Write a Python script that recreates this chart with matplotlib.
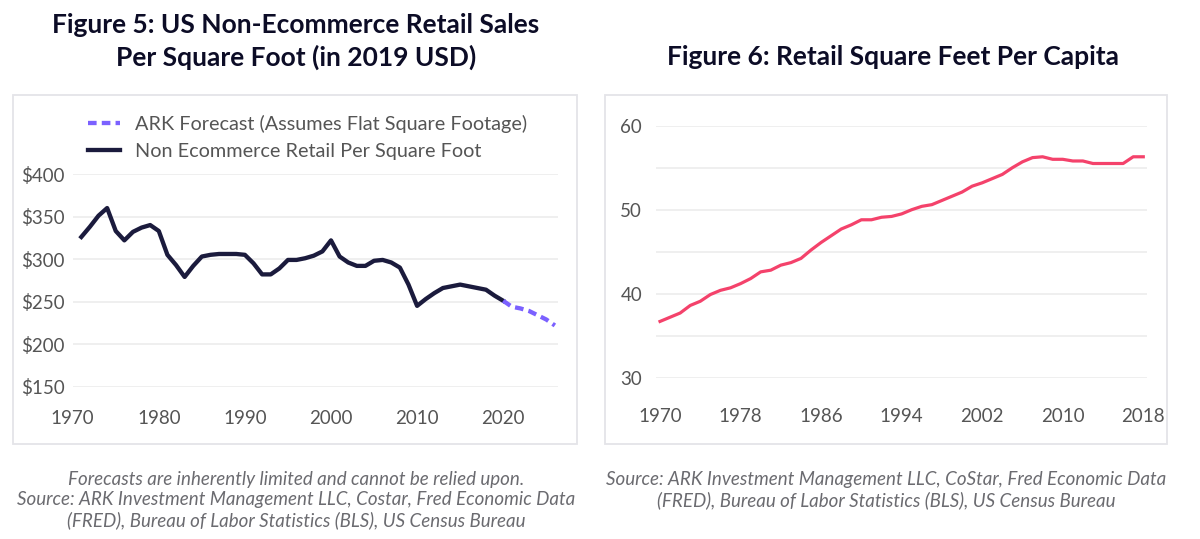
import matplotlib

matplotlib.use("Agg")
import matplotlib.pyplot as plt
from matplotlib.patches import Rectangle

# Figure 5: non-ecommerce retail sales per square foot (2019 USD)
sales_years = list(range(1971, 2021))
sales_values = [
    326, 338, 351, 360, 333, 322, 332, 337, 340, 333,
    305, 293, 279, 292, 303, 305, 306, 306, 306, 305,
    295, 282, 282, 289, 299, 299, 301, 304, 309, 322,
    303, 296, 292, 292, 298, 299, 296, 290, 270, 245,
    253, 260, 266, 268, 270, 268, 266, 264, 257, 251,
]
forecast_years = list(range(2020, 2027))
forecast_values = [251, 244, 242, 239, 234, 229, 222]

# Figure 6: retail square feet per capita
sqft_years = list(range(1970, 2019))
sqft_values = [
    36.7, 37.2, 37.7, 38.6, 39.1, 39.9, 40.4, 40.7, 41.2, 41.8,
    42.6, 42.8, 43.4, 43.7, 44.2, 45.2, 46.1, 46.9, 47.7, 48.2,
    48.8, 48.8, 49.1, 49.2, 49.5, 50.0, 50.4, 50.6, 51.1, 51.6,
    52.1, 52.8, 53.2, 53.7, 54.2, 55.0, 55.7, 56.2, 56.3, 56.0,
    56.0, 55.8, 55.8, 55.5, 55.5, 55.5, 55.5, 56.3, 56.3,
]

NAVY = "#1b1b3d"
PURPLE = "#7b61ff"
PINK = "#f4426b"
GRID = "#ececec"
TICK = "#555555"
FONT = "Lato"

plt.rcParams["font.family"] = [FONT, "DejaVu Sans"]

fig = plt.figure(figsize=(12, 5.39), dpi=100)
fig.patch.set_facecolor("white")

# panel boxes
for x0, w in [(13.3, 563.4), (605, 562.3)]:
    fig.patches.append(
        Rectangle(
            (x0 / 1200, 1 - 444.3 / 539), w / 1200, 349.3 / 539,
            transform=fig.transFigure, facecolor="white",
            edgecolor="#e4e4e8", linewidth=1.3, zorder=-5,
        )
    )


def style_axes(ax, pad):
    ax.set_facecolor("none")
    for spine in ax.spines.values():
        spine.set_visible(False)
    ax.tick_params(length=0, labelsize=13.5, labelcolor=TICK)
    ax.tick_params(axis="x", pad=pad)
    ax.grid(axis="y", color=GRID, linewidth=1.2)
    ax.set_axisbelow(True)


# left chart
ax1 = fig.add_axes([72.7 / 1200, 1 - 386.7 / 539, 485.6 / 1200, 212.7 / 539])
style_axes(ax1, 17)
ax1.plot(sales_years, sales_values, color=NAVY, linewidth=3.1,
         label="Non Ecommerce Retail Per Square Foot")
ax1.plot(forecast_years, forecast_values, color=PURPLE, linewidth=3.1,
         linestyle=(0, (2, 1.2)), label="ARK Forecast (Assumes Flat Square Footage)")
ax1.set_xlim(1970.35, 2026.4)
ax1.set_ylim(150, 400)
ax1.set_yticks(range(150, 401, 50))
ax1.set_yticklabels([f"${v}" for v in range(150, 401, 50)])
ax1.tick_params(axis="y", pad=6)
ax1.set_xticks(range(1970, 2021, 10))
handles, labels = ax1.get_legend_handles_labels()
leg = fig.legend(handles[::-1], labels[::-1], loc="upper left",
                 bbox_to_anchor=(88 / 1200, 1 - 115 / 539), frameon=False,
                 fontsize=14.3, handlelength=1.6, handletextpad=0.75,
                 labelspacing=0.5, borderpad=0, borderaxespad=0)
for t in leg.get_texts():
    t.set_color(TICK)

# right chart
ax2 = fig.add_axes([656 / 1200, 1 - 377.7 / 539, 491.3 / 1200, 252 / 539])
style_axes(ax2, 22)
ax2.plot(sqft_years, sqft_values, color=PINK, linewidth=2.3)
ax2.set_xlim(1969.6, 2018.4)
ax2.set_ylim(30, 60)
ax2.set_yticks(range(30, 61, 5))
ax2.set_yticklabels([str(v) if v % 10 == 0 else "" for v in range(30, 61, 5)])
ax2.tick_params(axis="y", pad=10)
ax2.set_xticks(range(1970, 2019, 8))

# titles
title_kw = dict(ha="center", va="center", fontsize=19, fontweight="bold", color="#0c0c26")
fig.text(296 / 1200, 1 - 25 / 539, "Figure 5: US Non-Ecommerce Retail Sales", **title_kw)
fig.text(296 / 1200, 1 - 57 / 539, "Per Square Foot (in 2019 USD)", **title_kw)
fig.text(893 / 1200, 1 - 57 / 539, "Figure 6: Retail Square Feet Per Capita", **title_kw)

# captions
cap_kw = dict(ha="center", va="center", fontsize=13.5, style="italic", color="#6b6b70")
fig.text(296 / 1200, 1 - 479 / 539, "Forecasts are inherently limited and cannot be relied upon.", **cap_kw)
fig.text(296 / 1200, 1 - 500 / 539, "Source: ARK Investment Management LLC, Costar, Fred Economic Data", **cap_kw)
fig.text(296 / 1200, 1 - 520 / 539, "(FRED), Bureau of Labor Statistics (BLS), US Census Bureau", **cap_kw)
fig.text(886 / 1200, 1 - 479 / 539, "Source: ARK Investment Management LLC, CoStar, Fred Economic Data", **cap_kw)
fig.text(886 / 1200, 1 - 500 / 539, "(FRED), Bureau of Labor Statistics (BLS), US Census Bureau", **cap_kw)

fig.savefig("out.png", dpi=100)
